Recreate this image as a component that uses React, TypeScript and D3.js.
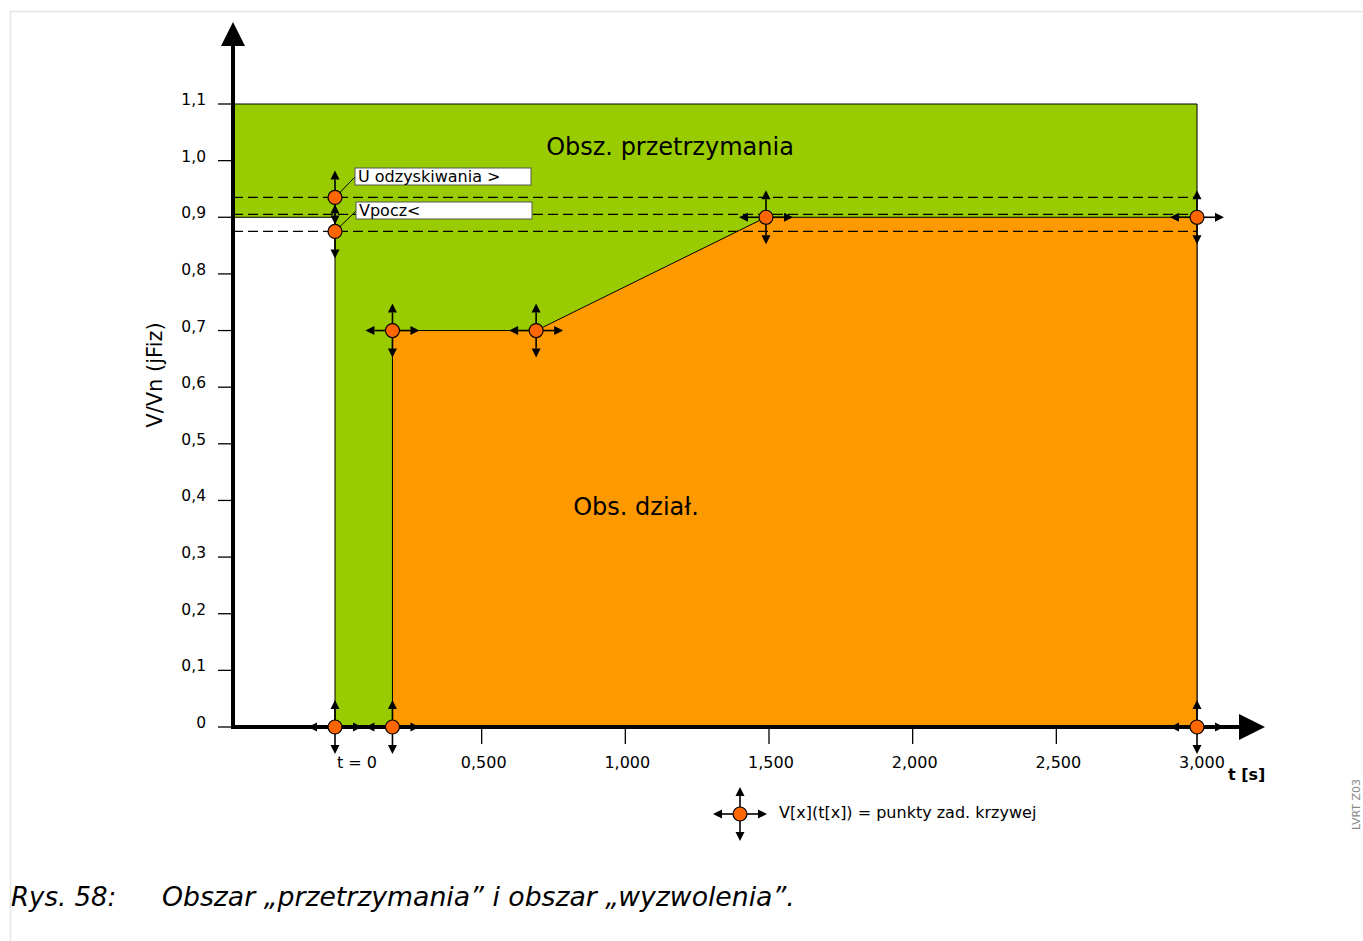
import React from "react";
import * as d3 from "d3";

const W = 1363;
const H = 941;

// data
const yTicks = [0, 0.1, 0.2, 0.3, 0.4, 0.5, 0.6, 0.7, 0.8, 0.9, 1.0, 1.1];
const yTickLabels = ["0", "0,1", "0,2", "0,3", "0,4", "0,5", "0,6", "0,7", "0,8", "0,9", "1,0", "1,1"];
const xTicks = [0.5, 1.0, 1.5, 2.0, 2.5, 3.0];
const xTickLabels = ["0,500", "1,000", "1,500", "2,000", "2,500", "3,000"];
const curveT = [0, 0.2, 0.2, 0.7, 1.5, 3.0, 3.0];
const curveV = [0, 0, 0.7, 0.7, 0.9, 0.9, 0];
const markerT = [0, 0.2, 0.2, 0.7, 1.5, 3.0, 3.0];
const markerV = [0, 0, 0.7, 0.7, 0.9, 0.9, 0];
const thresholdNames = ["U odzyskiwania >", "Vpocz<"];
const thresholdValues = [0.935, 0.875];
const dashedValues = [0.935, 0.905, 0.875];
const holdTopV = 1.1;
const holdLeftV = 0.9;

const GREEN = "#99cc00";
const ORANGE = "#ff9900";
const DOT = "#ff6600";
const FONT = "DejaVu Sans, Verdana, sans-serif";

const AXIS_X = 233;
const x = d3.scaleLinear().domain([0, 3]).range([335, 1197]);
const y = d3.scaleLinear().domain([0, 1.1]).range([727, 104]);

function Arrow({ cx, cy, dx, dy }: { cx: number; cy: number; dx: number; dy: number }) {
  const len = 27;
  const head = 9;
  const hw = 4.5;
  const tx = cx + dx * len;
  const ty = cy + dy * len;
  const bx = cx + dx * (len - head);
  const by = cy + dy * (len - head);
  const px = -dy;
  const py = dx;
  const pts = [
    [tx, ty],
    [bx + px * hw, by + py * hw],
    [bx - px * hw, by - py * hw],
  ];
  return (
    <g>
      <line x1={cx} y1={cy} x2={bx} y2={by} stroke="#000" strokeWidth={1.6} />
      <polygon points={pts.map((p) => p.join(",")).join(" ")} fill="#000" />
    </g>
  );
}

function Marker({ cx, cy, vertOnly }: { cx: number; cy: number; vertOnly?: boolean }) {
  const dirs = vertOnly
    ? [
        [0, -1],
        [0, 1],
      ]
    : [
        [0, -1],
        [0, 1],
        [-1, 0],
        [1, 0],
      ];
  return (
    <g>
      {dirs.map((d, i) => (
        <Arrow key={i} cx={cx} cy={cy} dx={d[0]} dy={d[1]} />
      ))}
      <circle cx={cx} cy={cy} r={7} fill={DOT} stroke="#000" strokeWidth={1.2} />
    </g>
  );
}

export default function App() {
  const holdPoly: [number, number][] = [
    [AXIS_X, y(holdTopV)],
    [x(3), y(holdTopV)],
    [x(3), y(0)],
    [x(0), y(0)],
    [x(0), y(holdLeftV)],
    [AXIS_X, y(holdLeftV)],
  ];
  const line = d3.line<[number, number]>();
  const tripPts: [number, number][] = curveT.map((t, i) => [x(t), y(curveV[i])]);
  const x0 = x(0);
  const y0 = y(0);

  return (
    <svg
      width={W}
      height={H}
      style={{ position: "absolute", left: 0, top: 0, background: "#fff" }}
      fontFamily={FONT}
    >
      {/* frame */}
      <line x1={10.5} y1={11} x2={10.5} y2={H} stroke="#e6e6e6" strokeWidth={1.5} />
      <line x1={10} y1={11.5} x2={W} y2={11.5} stroke="#e6e6e6" strokeWidth={1.5} />

      {/* hold region */}
      <path d={line(holdPoly) + "Z"} fill={GREEN} stroke="#000" strokeWidth={1} />
      {/* trip region */}
      <path d={line(tripPts) + "Z"} fill={ORANGE} stroke="#000" strokeWidth={1} />

      {/* dashed threshold lines */}
      {dashedValues.map((v, i) => (
        <line
          key={i}
          x1={AXIS_X}
          x2={x(3)}
          y1={y(v)}
          y2={y(v)}
          stroke="#000"
          strokeWidth={1.3}
          strokeDasharray="10,5"
        />
      ))}

      {/* y ticks */}
      {yTicks.map((v, i) => (
        <g key={i}>
          <line x1={218} x2={AXIS_X} y1={y(v)} y2={y(v)} stroke="#000" strokeWidth={1.3} />
          <text x={206} y={y(v) + 1} textAnchor="end" fontSize={15.5} fill="#000">
            {yTickLabels[i]}
          </text>
        </g>
      ))}

      {/* x ticks */}
      {xTicks.map((t, i) => (
        <g key={i}>
          {i < xTicks.length - 1 && (
            <line x1={x(t) + 3} x2={x(t) + 3} y1={729} y2={744} stroke="#000" strokeWidth={1.3} />
          )}
          <text x={x(t) + 5} y={768} textAnchor="middle" fontSize={16} fill="#000">
            {xTickLabels[i]}
          </text>
        </g>
      ))}
      <text x={337} y={768} fontSize={16} fill="#000">
        t = 0
      </text>
      <text x={1228} y={780} fontSize={16} fontWeight="bold" fill="#000">
        t [s]
      </text>

      {/* axes */}
      <line x1={AXIS_X} x2={AXIS_X} y1={729} y2={40} stroke="#000" strokeWidth={4} />
      <polygon points={`${AXIS_X},22 ${AXIS_X - 12},46 ${AXIS_X + 12},46`} fill="#000" />
      <line x1={AXIS_X - 2} x2={1245} y1={y0} y2={y0} stroke="#000" strokeWidth={4} />
      <polygon points={`1265,${y0} 1239,${y0 - 13} 1239,${y0 + 13}`} fill="#000" />

      {/* y label */}
      <text
        transform={`translate(162,375) rotate(-90)`}
        textAnchor="middle"
        fontSize={21}
        fill="#000"
      >
        V/Vn (jFiz)
      </text>

      {/* region labels */}
      <text x={670} y={155} textAnchor="middle" fontSize={24} fill="#000">
        Obsz. przetrzymania
      </text>
      <text x={636} y={515} textAnchor="middle" fontSize={24} fill="#000">
        Obs. dział.
      </text>

      {/* threshold labels */}
      {thresholdValues.map((v, i) => {
        const bx = 355 + i;
        const by = i === 0 ? 168 : 202;
        return (
          <g key={i}>
            <line x1={x0} y1={y(v)} x2={bx} y2={by + 9} stroke="#000" strokeWidth={1} />
            <rect x={bx} y={by} width={176} height={17} fill="#fff" stroke="#555" strokeWidth={1} />
            <text x={bx + 3} y={by + 14} fontSize={16} fill="#000">
              {thresholdNames[i]}
            </text>
          </g>
        );
      })}

      {/* markers */}
      {thresholdValues.map((v, i) => (
        <Marker key={"th" + i} cx={x0} cy={y(v)} vertOnly />
      ))}
      {markerT.map((t, i) => (
        <Marker key={i} cx={x(t)} cy={y(markerV[i])} />
      ))}

      {/* legend */}
      <Marker cx={740} cy={814} />
      <text x={779} y={818} fontSize={16} fill="#000">
        V[x](t[x]) = punkty zad. krzywej
      </text>

      {/* side code */}
      <text
        transform={`translate(1360,830) rotate(-90)`}
        fontSize={11}
        fill="#888"
      >
        LVRT Z03
      </text>

      {/* caption */}
      <text x={11} y={906} fontSize={26} fontStyle="italic" fill="#000">
        Rys. 58:
      </text>
      <text x={162} y={906} fontSize={26.7} fontStyle="italic" fill="#000">
        Obszar „przetrzymania” i obszar „wyzwolenia”.
      </text>
    </svg>
  );
}
